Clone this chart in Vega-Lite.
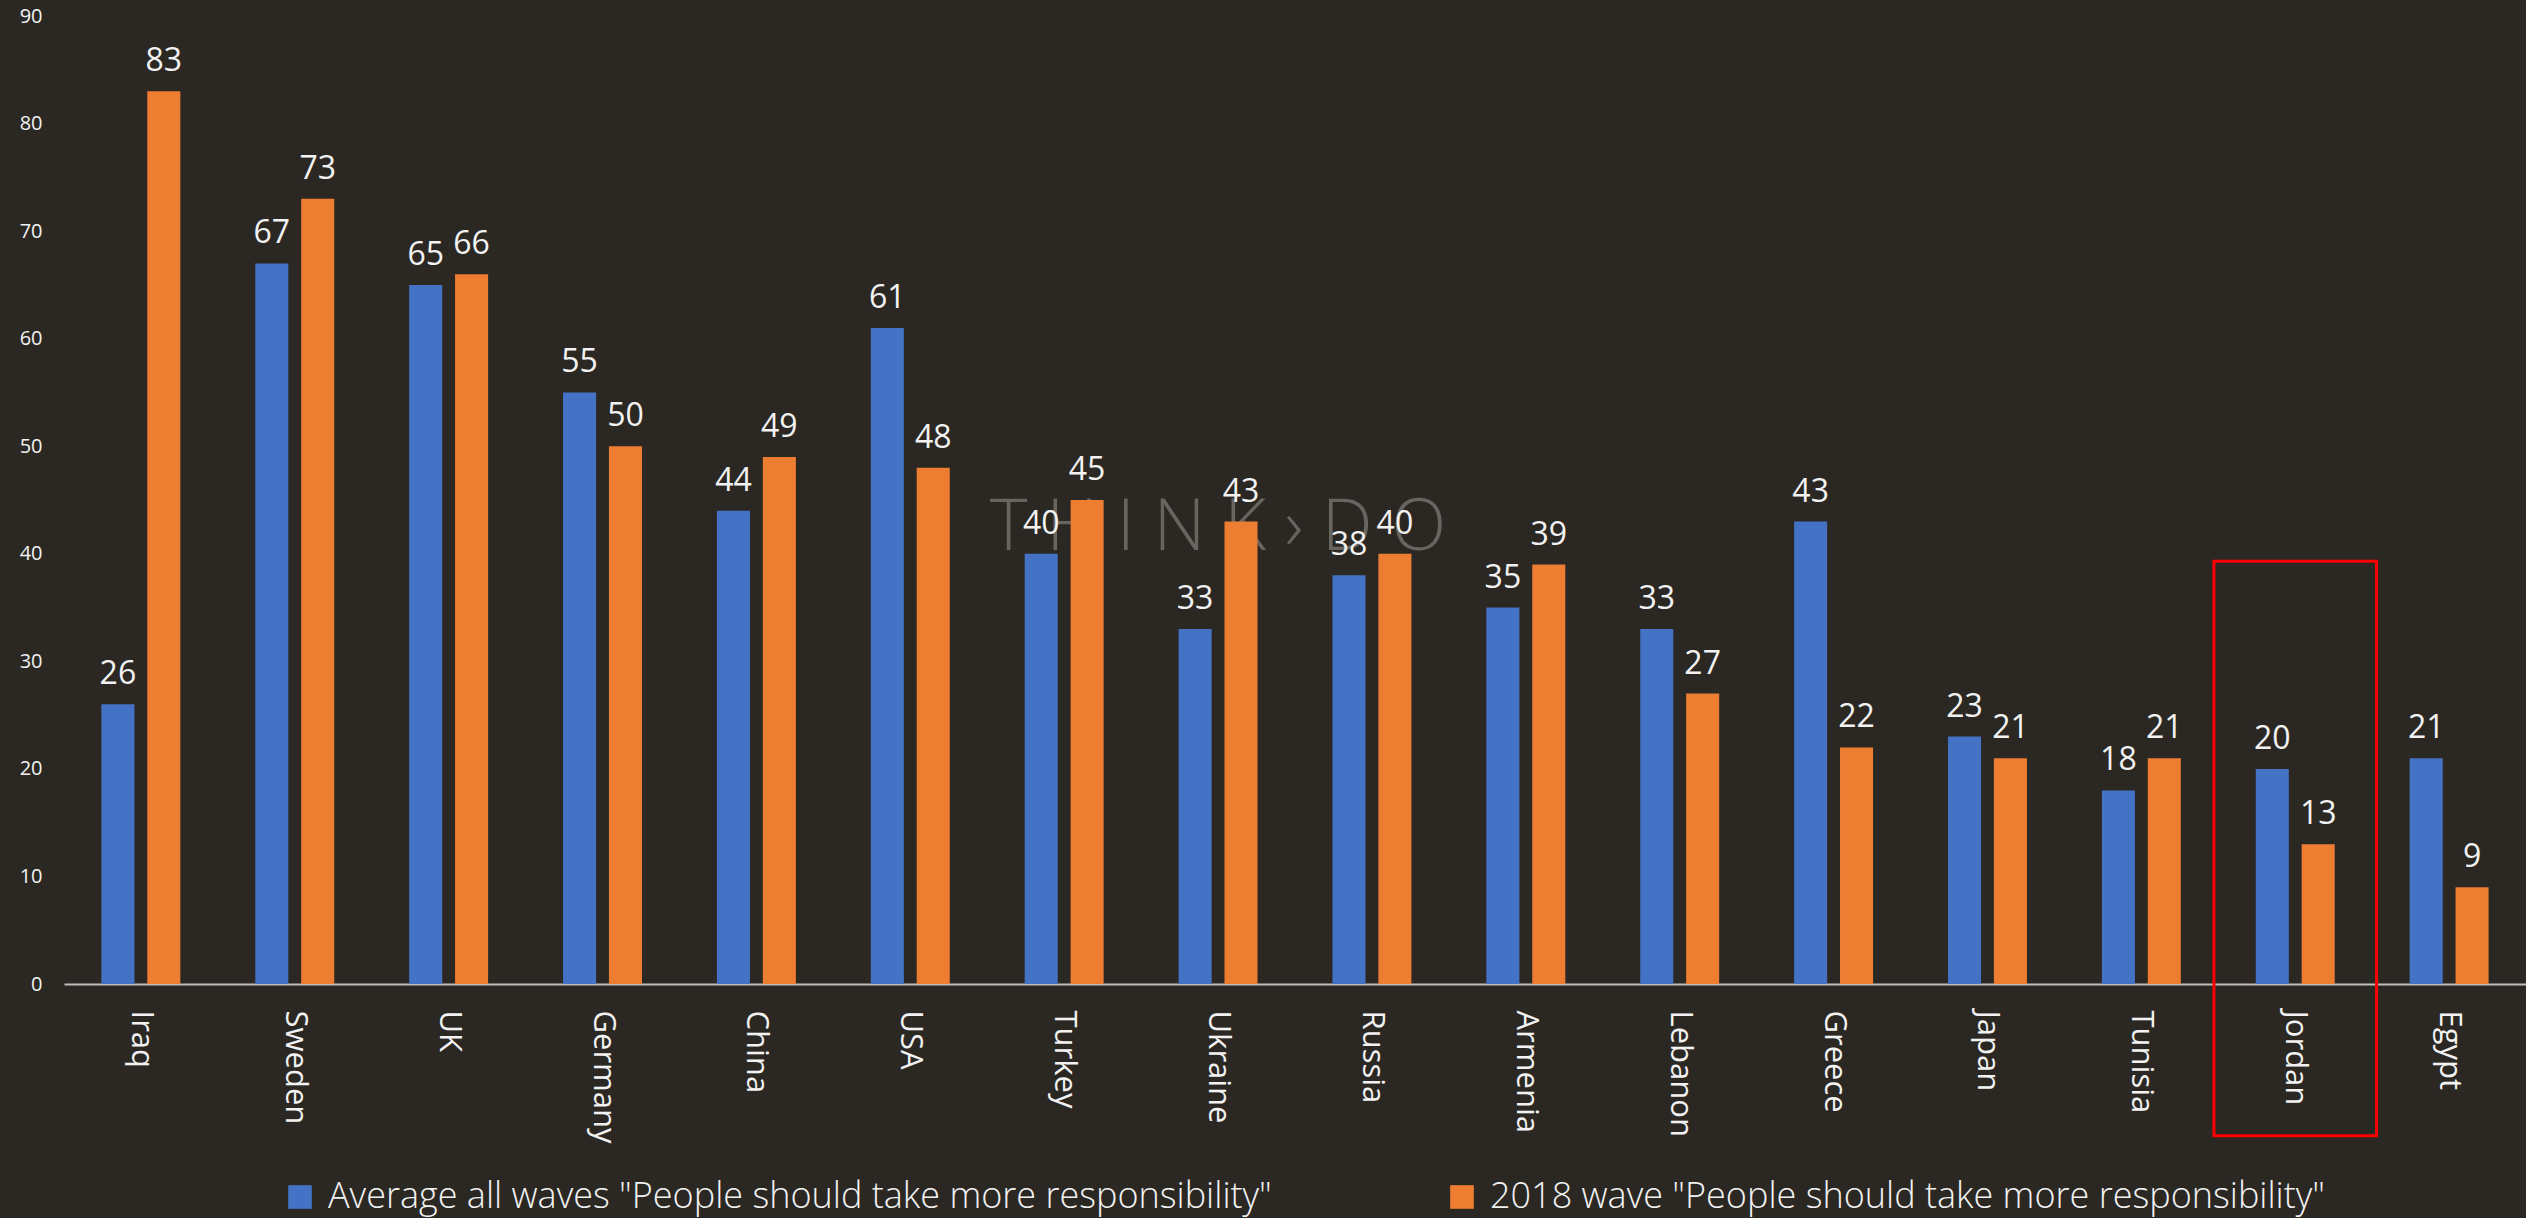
{
  "$schema": "https://vega.github.io/schema/vega-lite/v6.json",
  "autosize": {"type": "none"},
  "padding": {"left": 64, "top": 16, "right": 0, "bottom": 234},
  "width": 2462,
  "height": 968,
  "background": "#2b2824",
  "config": {"view": {"stroke": null}},
  "datasets": {
    "bars": [
      {"country": "Iraq", "series": "Average all waves \"People should take more responsibility\"", "value": 26},
      {"country": "Iraq", "series": "2018 wave \"People should take more responsibility\"", "value": 83},
      {"country": "Sweden", "series": "Average all waves \"People should take more responsibility\"", "value": 67},
      {"country": "Sweden", "series": "2018 wave \"People should take more responsibility\"", "value": 73},
      {"country": "UK", "series": "Average all waves \"People should take more responsibility\"", "value": 65},
      {"country": "UK", "series": "2018 wave \"People should take more responsibility\"", "value": 66},
      {"country": "Germany", "series": "Average all waves \"People should take more responsibility\"", "value": 55},
      {"country": "Germany", "series": "2018 wave \"People should take more responsibility\"", "value": 50},
      {"country": "China", "series": "Average all waves \"People should take more responsibility\"", "value": 44},
      {"country": "China", "series": "2018 wave \"People should take more responsibility\"", "value": 49},
      {"country": "USA", "series": "Average all waves \"People should take more responsibility\"", "value": 61},
      {"country": "USA", "series": "2018 wave \"People should take more responsibility\"", "value": 48},
      {"country": "Turkey", "series": "Average all waves \"People should take more responsibility\"", "value": 40},
      {"country": "Turkey", "series": "2018 wave \"People should take more responsibility\"", "value": 45},
      {"country": "Ukraine", "series": "Average all waves \"People should take more responsibility\"", "value": 33},
      {"country": "Ukraine", "series": "2018 wave \"People should take more responsibility\"", "value": 43},
      {"country": "Russia", "series": "Average all waves \"People should take more responsibility\"", "value": 38},
      {"country": "Russia", "series": "2018 wave \"People should take more responsibility\"", "value": 40},
      {"country": "Armenia", "series": "Average all waves \"People should take more responsibility\"", "value": 35},
      {"country": "Armenia", "series": "2018 wave \"People should take more responsibility\"", "value": 39},
      {"country": "Lebanon", "series": "Average all waves \"People should take more responsibility\"", "value": 33},
      {"country": "Lebanon", "series": "2018 wave \"People should take more responsibility\"", "value": 27},
      {"country": "Greece", "series": "Average all waves \"People should take more responsibility\"", "value": 43},
      {"country": "Greece", "series": "2018 wave \"People should take more responsibility\"", "value": 22},
      {"country": "Japan", "series": "Average all waves \"People should take more responsibility\"", "value": 23},
      {"country": "Japan", "series": "2018 wave \"People should take more responsibility\"", "value": 21},
      {"country": "Tunisia", "series": "Average all waves \"People should take more responsibility\"", "value": 18},
      {"country": "Tunisia", "series": "2018 wave \"People should take more responsibility\"", "value": 21},
      {"country": "Jordan", "series": "Average all waves \"People should take more responsibility\"", "value": 20},
      {"country": "Jordan", "series": "2018 wave \"People should take more responsibility\"", "value": 13},
      {"country": "Egypt", "series": "Average all waves \"People should take more responsibility\"", "value": 21},
      {"country": "Egypt", "series": "2018 wave \"People should take more responsibility\"", "value": 9}
    ]
  },
  "encoding": {
    "x": {
      "field": "country",
      "type": "nominal",
      "sort": ["Iraq", "Sweden", "UK", "Germany", "China", "USA", "Turkey", "Ukraine", "Russia", "Armenia", "Lebanon", "Greece", "Japan", "Tunisia", "Jordan", "Egypt"],
      "scale": {"paddingInner": 0.487, "paddingOuter": 0.243},
      "axis": {
        "title": null,
        "labelAngle": 90,
        "labelFont": "Open Sans",
        "labelFontSize": 31,
        "labelColor": "#f2f2f2",
        "labelPadding": 26,
        "ticks": false,
        "domainColor": "#bfbfbf",
        "domainWidth": 2,
        "grid": false
      }
    },
    "y": {
      "type": "quantitative",
      "scale": {"domain": [0, 90], "nice": false, "zero": true},
      "axis": {
        "title": null,
        "values": [0, 10, 20, 30, 40, 50, 60, 70, 80, 90],
        "labelFont": "Open Sans",
        "labelFontSize": 20,
        "labelColor": "#f2f2f2",
        "labelPadding": 22,
        "ticks": false,
        "domain": false,
        "grid": false
      }
    }
  },
  "layer": [
    {
      "data": {"values": [{}]},
      "mark": {"type": "text", "text": "T H I N K › D O", "font": "Open Sans", "fontWeight": 300, "fontSize": 72, "color": "#7d7873", "opacity": 0.75, "align": "center", "baseline": "middle"},
      "encoding": {
        "x": {"datum": "Ukraine"},
        "y": {"datum": 42.4}
      }
    },
    {
      "data": {"name": "bars"},
      "mark": {"type": "bar"},
      "encoding": {
        "y": {"field": "value", "type": "quantitative"},
        "xOffset": {
          "field": "series",
          "type": "nominal",
          "sort": ["Average all waves \"People should take more responsibility\"", "2018 wave \"People should take more responsibility\""],
          "scale": {"paddingInner": 0.28}
        },
        "color": {
          "field": "series",
          "type": "nominal",
          "scale": {
            "domain": ["Average all waves \"People should take more responsibility\"", "2018 wave \"People should take more responsibility\""],
            "range": ["#4472c4", "#ed7d31"]
          },
          "legend": {
            "title": null,
            "orient": "none",
            "legendX": 218,
            "legendY": 1163,
            "direction": "horizontal",
            "symbolType": "square",
            "symbolSize": 560,
            "symbolStrokeWidth": 0,
            "labelFont": "Open Sans",
            "labelFontWeight": 300,
            "labelFontSize": 36,
            "labelColor": "#f2f2f2",
            "labelLimit": 0,
            "labelOffset": 10,
            "columnPadding": 172
          }
        }
      }
    },
    {
      "data": {"name": "bars"},
      "mark": {"type": "text", "font": "Open Sans", "fontSize": 32, "color": "#f2f2f2", "baseline": "alphabetic", "dy": -20},
      "encoding": {
        "y": {"field": "value", "type": "quantitative"},
        "xOffset": {
          "field": "series",
          "type": "nominal",
          "sort": ["Average all waves \"People should take more responsibility\"", "2018 wave \"People should take more responsibility\""]
        },
        "text": {"field": "value", "type": "quantitative"}
      }
    },
    {
      "data": {"values": [{}]},
      "mark": {"type": "bar", "fillOpacity": 0, "stroke": "#ff0000", "strokeWidth": 3, "clip": false, "width": {"band": 2.06}},
      "encoding": {
        "x": {"datum": "Jordan"},
        "y": {"datum": 39.3},
        "y2": {"datum": -14.1}
      }
    }
  ]
}
